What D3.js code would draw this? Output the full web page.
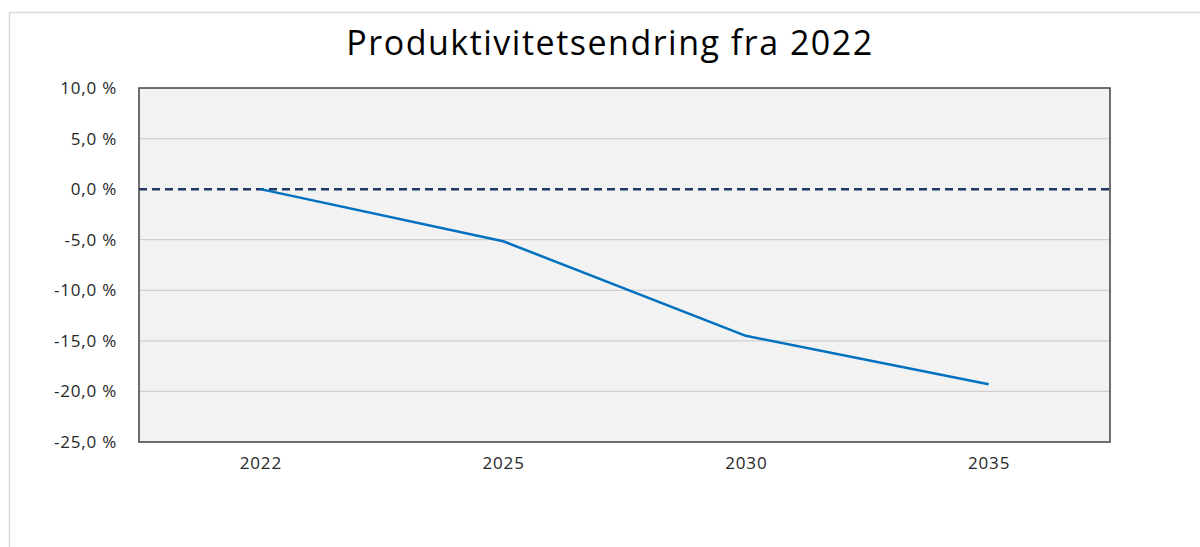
<!DOCTYPE html>
<html>
<head>
<meta charset="utf-8">
<script src="https://cdn.jsdelivr.net/npm/d3@7"></script>
<style>
  body { margin: 0; background: #fff; }
  svg { display: block; font-family: "Open Sans", "Noto Sans", sans-serif; }
</style>
</head>
<body>
<script>
// data
const years = ["2022", "2025", "2030", "2035"];
const endring = [0.0, -5.15, -14.5, -19.3];
const yTicks = [10, 5, 0, -5, -10, -15, -20, -25];
const title = "Produktivitetsendring fra 2022";

const W = 1200, H = 547;
const plot = { left: 139, top: 88, right: 1110, bottom: 442 };

const svg = d3.select("body").append("svg").attr("width", W).attr("height", H);

// ytre ramme (bare topp og venstre synlig)
svg.append("path")
    .attr("d", "M9.5," + H + "V12.5H" + W)
    .attr("fill", "none").attr("stroke", "#d9d9d9").attr("stroke-width", 1.5);

svg.append("text")
    .attr("x", 610).attr("y", 55)
    .attr("text-anchor", "middle")
    .attr("font-size", 34).attr("letter-spacing", 1.5).attr("fill", "#000")
    .text(title);

const x = d3.scalePoint().domain(years).range([plot.left, plot.right]).padding(0.5);
const y = d3.scaleLinear().domain([-25, 10]).range([plot.bottom, plot.top]);

svg.append("rect")
    .attr("x", plot.left).attr("y", plot.top)
    .attr("width", plot.right - plot.left).attr("height", plot.bottom - plot.top)
    .attr("fill", "#f2f2f2");

// rutenett
svg.append("g")
    .selectAll("line").data(yTicks.filter(d => d !== 10 && d !== -25 && d !== 0)).join("line")
    .attr("x1", plot.left).attr("x2", plot.right)
    .attr("y1", d => y(d)).attr("y2", d => y(d))
    .attr("stroke", "#d0d0d0").attr("stroke-width", 1.2);

// y-akse
const yAxis = d3.axisLeft(y).tickValues(yTicks).tickSize(0).tickPadding(22)
    .tickFormat(d => d3.format(".1f")(d).replace(".", ",").replace("−", "-") + " %");
const gy = svg.append("g").attr("transform", "translate(" + plot.left + ",0)").call(yAxis);
gy.select(".domain").remove();
gy.selectAll("text").attr("font-size", 17).attr("letter-spacing", 0.8).attr("fill", "#262626")
    .attr("font-family", "\"Open Sans\", sans-serif");

// x-akse
const xAxis = d3.axisBottom(x).tickSize(0).tickPadding(15);
const gx = svg.append("g").attr("transform", "translate(0," + plot.bottom + ")").call(xAxis);
gx.select(".domain").remove();
gx.selectAll("text").attr("font-size", 17).attr("letter-spacing", 0.8).attr("fill", "#262626")
    .attr("font-family", "\"Open Sans\", sans-serif");

// nullinje stiplet
svg.append("line")
    .attr("x1", plot.left).attr("x2", plot.right)
    .attr("y1", y(0)).attr("y2", y(0))
    .attr("stroke", "#1f3864").attr("stroke-width", 2.5)
    .attr("stroke-dasharray", "8,5");

// ramme rundt plottet
svg.append("rect")
    .attr("x", plot.left).attr("y", plot.top)
    .attr("width", plot.right - plot.left).attr("height", plot.bottom - plot.top)
    .attr("fill", "none").attr("stroke", "#404040").attr("stroke-width", 1.5);

// linje
const line = d3.line().x((d, i) => x(years[i])).y(d => y(d));
svg.append("path")
    .datum(endring)
    .attr("d", line)
    .attr("fill", "none").attr("stroke", "#0070c0").attr("stroke-width", 2.5)
    .attr("stroke-linejoin", "round");
</script>
</body>
</html>
